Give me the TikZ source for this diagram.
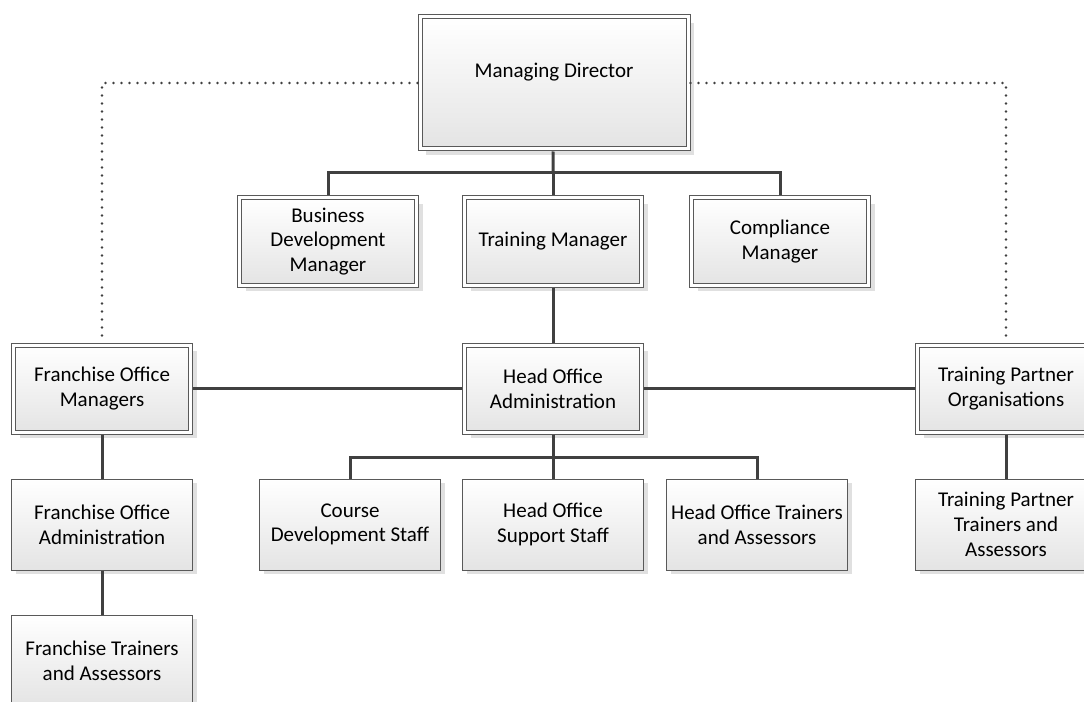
\documentclass[tikz,border=0pt]{standalone}
\usepackage{fontspec}
\setmainfont{Carlito}
\usetikzlibrary{shadows}
\definecolor{boxline}{HTML}{595959}
\definecolor{boxfill}{HTML}{E4E4E4}
\definecolor{linkline}{HTML}{404040}
\tikzset{
  orgbox/.style={draw=boxline, line width=0.75pt, top color=white, bottom color=boxfill,
    minimum width=135.75pt, minimum height=68.25pt, inner sep=0pt, outer sep=0.375pt,
    align=center, font=\fontsize{15.75}{18.5}\selectfont,
    drop shadow={shadow xshift=#1, shadow yshift=-#1, fill=black!12, opacity=1}},
  orgbox/.default=3pt,
  dblbox/.style={orgbox=4.5pt, double=white, double distance=2.25pt,
    minimum width=132.75pt, minimum height=65.25pt, outer sep=1.875pt},
  link/.style={draw=linkline, line width=2.25pt},
  dotlink/.style={draw=linkline, line width=2pt, line cap=round, dash pattern=on 0pt off 6pt}
}

\begin{document}
\begin{tikzpicture}[x=0.75pt, y=-0.75pt]
      \useasboundingbox (0,0) rectangle (1084,702);

      \node[dblbox, minimum width=201pt, minimum height=99pt, text depth=19.5pt] (md) at (554,83) {Managing Director};

      \node[dblbox] (bdm) at (328,241.5) {Business\\Development\\Manager};
      \node[dblbox] (tm) at (553,241.5) {Training Manager};
      \node[dblbox] (cm) at (780,241.5) {Compliance\\Manager};

      \node[dblbox] (fom) at (102,388.5) {Franchise Office\\Managers};
      \node[dblbox] (hoa) at (553,388.5) {Head Office\\Administration};
      \node[dblbox] (tpo) at (1006,388.5) {Training Partner\\Organisations};

      \node[orgbox] (foa) at (102,524.5) {Franchise Office\\Administration};
      \node[orgbox] (fta) at (102,660.5) {Franchise Trainers\\and Assessors};
      \node[orgbox] (cds) at (350,524.5) {Course\\Development Staff};
      \node[orgbox] (hoss) at (553,524.5) {Head Office\\Support Staff};
      \node[orgbox] (hota) at (757,524.5) {Head Office Trainers\\and Assessors};
      \node[orgbox] (tpta) at (1006,524.5) {Training Partner\\Trainers and\\Assessors};

      \coordinate (topbus) at (553,173);
      \coordinate (lowbus) at (553,457);

      \draw[link] (md) -- (topbus);
      \draw[link] (bdm.north) |- (topbus) -| (cm.north);
      \draw[link] (topbus) -- (tm);
      \draw[link] (tm) -- (hoa);
      \draw[link] (fom) -- (hoa);
      \draw[link] (hoa) -- (tpo);
      \draw[link] (fom) -- (foa);
      \draw[link] (foa) -- (fta);
      \draw[link] (hoa) -- (lowbus);
      \draw[link] (cds.north) |- (lowbus) -| (hota.north);
      \draw[link] (lowbus) -- (hoss);
      \draw[link] (tpo) -- (tpta);

      \draw[dotlink] (md.west) -| (fom.north);
      \draw[dotlink] (md.east) -| (tpo.north);
    \end{tikzpicture}
\end{document}
